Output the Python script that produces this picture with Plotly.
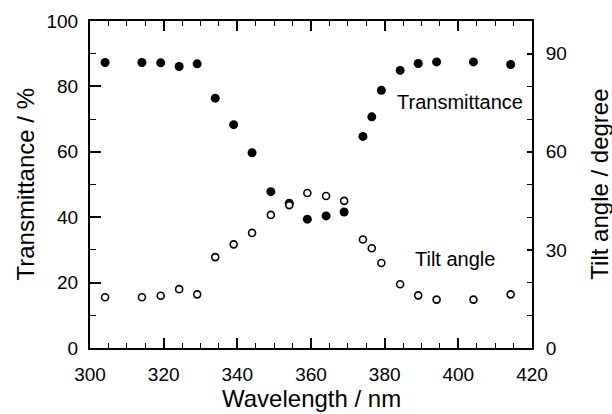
import plotly.graph_objects as go

# Data
wavelength = [304.1, 314.1, 319.2, 324.2, 329.1, 334.0, 339.0, 344.0, 349.1, 354.1,
              359.0, 364.1, 369.0, 374.1, 376.5, 379.1, 384.2, 389.1, 394.1, 404.1, 414.2]
transmittance = [87.3, 87.3, 87.2, 86.1, 86.9, 76.4, 68.3, 59.7, 47.8, 44.3,
                 39.4, 40.4, 41.6, 64.7, 70.7, 78.8, 84.9, 87.0, 87.5, 87.5, 86.7]
tilt_angle = [15.5, 15.5, 16.0, 18.0, 16.4, 27.8, 31.7, 35.2, 40.7, 43.7,
              47.4, 46.5, 45.0, 33.2, 30.5, 26.0, 19.5, 16.1, 14.8, 14.8, 16.4]

x_ticks = [300, 320, 340, 360, 380, 400, 420]
y_left_ticks = [0, 20, 40, 60, 80, 100]
y_right_ticks = [0, 30, 60, 90]

FONT = "Liberation Sans, Arial, Helvetica, sans-serif"

fig = go.Figure()
fig.add_trace(go.Scatter(
    x=wavelength, y=transmittance, mode="markers", name="Transmittance",
    marker=dict(symbol="circle", size=9, color="black", line=dict(width=0)),
    yaxis="y", showlegend=False))
fig.add_trace(go.Scatter(
    x=wavelength, y=tilt_angle, mode="markers", name="Tilt angle",
    marker=dict(symbol="circle", size=7, color="white",
                line=dict(width=1.6, color="black")),
    yaxis="y2", showlegend=False))

fig.update_layout(
    width=612, height=414,
    margin=dict(l=90, r=80, t=21, b=66),
    paper_bgcolor="white", plot_bgcolor="white",
    font=dict(family=FONT, size=19, color="black"),
    xaxis=dict(
        range=[300, 420], tickvals=x_ticks, ticks="inside", ticklen=10, tickwidth=1.5,
        tickcolor="black", showline=True, linewidth=2, linecolor="black",
        mirror="ticks", showgrid=False, zeroline=False,
        minor=dict(dtick=5, ticks="inside", ticklen=5, tickwidth=1.3, tickcolor="black",
                   showgrid=False),
        ticklabelstandoff=8,
    ),
    yaxis=dict(
        range=[0, 100], tickvals=y_left_ticks, ticks="inside", ticklen=11, tickwidth=1.5,
        tickcolor="black", showline=True, linewidth=2, linecolor="black",
        showgrid=False, zeroline=False,
        minor=dict(dtick=10, ticks="inside", ticklen=6, tickwidth=1.3, tickcolor="black",
                   showgrid=False),
        ticklabelstandoff=6,
    ),
    yaxis2=dict(
        range=[0, 100], tickvals=y_right_ticks, overlaying="y", side="right", anchor="x",
        ticks="inside", ticklen=5, tickwidth=1.5, tickcolor="black",
        showline=True, linewidth=2, linecolor="black", showgrid=False, zeroline=False,
        minor=dict(dtick=10, ticks="inside", ticklen=5, tickwidth=1.3, tickcolor="black",
                   showgrid=False),
        ticklabelstandoff=8,
    ),
    annotations=[
        dict(text="Transmittance", x=382.8, y=75.3, xref="x", yref="y",
             xanchor="left", yanchor="middle", showarrow=False, font=dict(size=20)),
        dict(text="Tilt angle", x=387.6, y=27.1, xref="x", yref="y",
             xanchor="left", yanchor="middle", showarrow=False, font=dict(size=20)),
        dict(text="Wavelength / nm", x=0.5, y=-0.155, xref="paper", yref="paper",
             xanchor="center", yanchor="middle", showarrow=False, font=dict(size=24)),
        dict(text="Transmittance / %", x=-0.147, y=0.5, xref="paper", yref="paper",
             xanchor="center", yanchor="middle", textangle=-90, showarrow=False,
             font=dict(size=24)),
        dict(text="Tilt angle / degree", x=1.152, y=0.5, xref="paper", yref="paper",
             xanchor="center", yanchor="middle", textangle=-90, showarrow=False,
             font=dict(size=24)),
    ],
)

fig.write_html("out.html")
